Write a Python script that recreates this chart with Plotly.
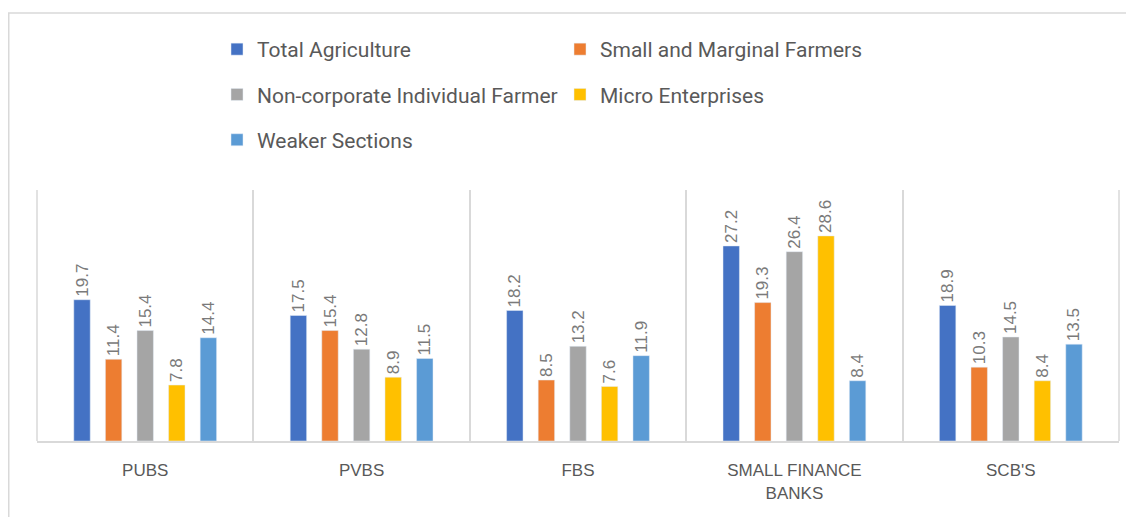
import plotly.graph_objects as go

categories = ["PUBS", "PVBS", "FBS", "SMALL FINANCE<br>BANKS", "SCB'S"]
series_names = ["Total Agriculture", "Small and Marginal Farmers",
                "Non-corporate Individual Farmer", "Micro Enterprises", "Weaker Sections"]
total_agriculture = [19.7, 17.5, 18.2, 27.2, 18.9]
small_marginal = [11.4, 15.4, 8.5, 19.3, 10.3]
non_corporate = [15.4, 12.8, 13.2, 26.4, 14.5]
micro_enterprises = [7.8, 8.9, 7.6, 28.6, 8.4]
weaker_sections = [14.4, 11.5, 11.9, 8.4, 13.5]
colors = ["#4472C4", "#ED7D31", "#A5A5A5", "#FFC000", "#5B9BD5"]
legend_ids = ["legend", "legend2", "legend", "legend2", "legend"]

values = [total_agriculture, small_marginal, non_corporate, micro_enterprises, weaker_sections]

FONT = "Roboto, Liberation Sans, Arial, sans-serif"
LABEL_FONT = "Liberation Sans, Arial, sans-serif"

fig = go.Figure()
for name, vals, col, lg in zip(series_names, values, colors, legend_ids):
    fig.add_trace(go.Bar(
        x=categories, y=vals, name=name, marker_color=col,
        text=[f"{v:.1f}" for v in vals], textposition="outside", textangle=-90,
        constraintext="none",
        textfont=dict(size=17, color="#7a7a7a", family=LABEL_FONT),
        cliponaxis=False, legend=lg, legendgroup=name,
    ))

# page body adds an 8px offset; figure sized to fill the rest of the window
W, H = 1126, 509
ml, mr, mt, mb = 29, 15, 182, 76
pw, ph = W - ml - mr, H - mt - mb

legend_common = dict(
    orientation="v", xanchor="left", yanchor="top", bgcolor="rgba(0,0,0,0)",
    font=dict(size=21, color="#595959", family=FONT),
    itemwidth=30, tracegroupgap=15, traceorder="grouped",
)

leg_top = 1 + (mt - 21) / ph

fig.update_layout(
    width=W, height=H,
    margin=dict(l=ml, r=mr, t=mt, b=mb, autoexpand=False),
    paper_bgcolor="white", plot_bgcolor="white",
    barmode="group", bargap=0.27, bargroupgap=0.48,
    showlegend=True,
    legend=dict(x=(209 - ml) / pw, y=leg_top, **legend_common),
    legend2=dict(x=(552 - ml) / pw, y=leg_top, **legend_common),
    xaxis=dict(
        showgrid=True, gridcolor="#d9d9d9", gridwidth=1.5, tickson="boundaries",
        showline=True, linecolor="#d9d9d9", linewidth=2, ticks="",
        tickfont=dict(size=17, color="#595959", family=LABEL_FONT),
        ticklabelstandoff=13,
    ),
    yaxis=dict(range=[0, 35], visible=False, showgrid=False),
    shapes=[
        dict(type="rect", xref="paper", yref="paper",
             x0=(0.75 - ml) / pw, x1=(1150 - ml) / pw,
             y0=-(530 - 433) / ph, y1=1 + (182 - 5) / ph,
             line=dict(color="#d9d9d9", width=1.5), fillcolor="rgba(0,0,0,0)", layer="below"),
        dict(type="line", xref="paper", yref="paper", x0=0, x1=0, y0=0, y1=1,
             line=dict(color="#d9d9d9", width=1.5), layer="below"),
        dict(type="line", xref="paper", yref="paper", x0=1, x1=1, y0=0, y1=1,
             line=dict(color="#d9d9d9", width=1.5), layer="below"),
    ],
)

fig.write_html("out.html")
